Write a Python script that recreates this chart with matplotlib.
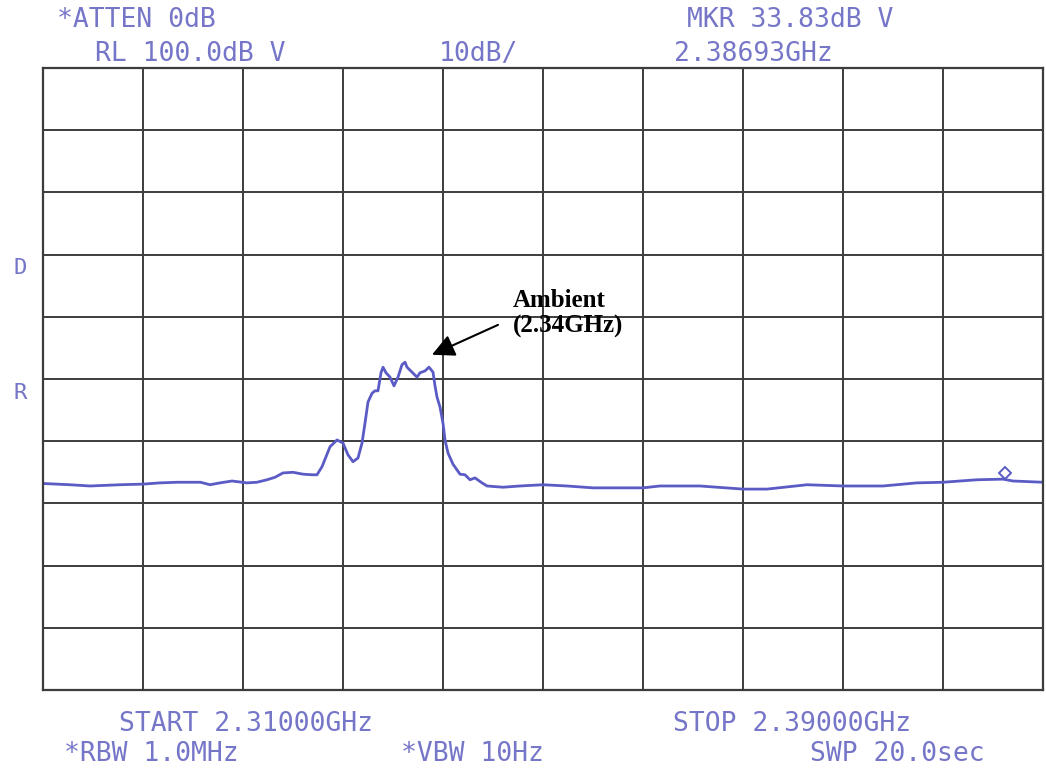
import matplotlib
matplotlib.use('Agg')
import matplotlib.pyplot as plt
from matplotlib.transforms import offset_copy

# trace: frequency (GHz) and level (dB V)
freq_ghz = [2.31000, 2.31216, 2.31376, 2.31616, 2.31800, 2.31936, 2.32072, 2.32260,
            2.32336, 2.32416, 2.32512, 2.32632, 2.32712, 2.32792, 2.32856, 2.32920,
            2.33000, 2.33080, 2.33152, 2.33192, 2.33232, 2.33296, 2.33352, 2.33400,
            2.33440, 2.33480, 2.33520, 2.33552, 2.33576, 2.33600, 2.33632, 2.33656,
            2.33680, 2.33704, 2.33720, 2.33744, 2.33776, 2.33808, 2.33840, 2.33872,
            2.33896, 2.33912, 2.33952, 2.33992, 2.34016, 2.34056, 2.34088, 2.34120,
            2.34136, 2.34152, 2.34176, 2.34200, 2.34216, 2.34240, 2.34280, 2.34336,
            2.34376, 2.34416, 2.34456, 2.34512, 2.34552, 2.34680, 2.34816, 2.35000,
            2.35192, 2.35400, 2.35800, 2.35936, 2.36256, 2.36392, 2.36600, 2.36792,
            2.37112, 2.37400, 2.37720, 2.37992, 2.38200, 2.38472, 2.38680, 2.38760,
            2.39000]
level_db = [33.2, 33.0, 32.8, 33.0, 33.1, 33.3, 33.4, 33.4,
            33.0, 33.3, 33.6, 33.3, 33.4, 33.8, 34.2, 34.9,
            35.0, 34.7, 34.6, 34.6, 35.9, 39.1, 40.2, 39.7,
            37.8, 36.7, 37.3, 39.7, 42.9, 46.3, 47.7, 48.1,
            48.1, 51.0, 51.9, 51.0, 50.3, 48.9, 50.3, 52.3,
            52.7, 51.9, 51.1, 50.3, 51.0, 51.3, 51.9, 51.1,
            48.9, 47.1, 45.5, 42.9, 40.2, 38.1, 36.3, 34.7,
            34.6, 33.8, 34.1, 33.3, 32.8, 32.6, 32.8, 33.0,
            32.8, 32.5, 32.5, 32.8, 32.8, 32.6, 32.3, 32.3,
            33.0, 32.8, 32.8, 33.3, 33.4, 33.8, 33.9, 33.6,
            33.4]

start_ghz = 2.31
stop_ghz = 2.39
ref_level = 100.0
db_per_div = 10
mkr_ghz = 2.38693
mkr_db = 33.83

trace_col = '#5b5bc6'
text_col = '#7676c9'
grid_col = '#3c3c3c'

fig = plt.figure(figsize=(10.46, 7.71), dpi=100)
W, H = 1046.0, 771.0
ax = fig.add_axes([43 / W, 1 - 690 / H, 1000 / W, 622 / H])

ax.plot(freq_ghz, level_db, color=trace_col, linewidth=2.0)
mk_tr = offset_copy(ax.transData, fig=fig, x=0, y=5, units='points')
ax.plot([mkr_ghz], [mkr_db], marker='D', markersize=6.5, markerfacecolor='none',
        markeredgecolor=trace_col, markeredgewidth=1.4, transform=mk_tr)

ax.set_xlim(start_ghz, stop_ghz)
ax.set_ylim(ref_level - 10 * db_per_div, ref_level)
ax.set_xticks([start_ghz + i * (stop_ghz - start_ghz) / 10 for i in range(11)])
ax.set_yticks([ref_level - i * db_per_div for i in range(11)])
ax.tick_params(length=0, labelbottom=False, labelleft=False)
ax.grid(True, color=grid_col, linewidth=1.4)
for s in ax.spines.values():
    s.set_color(grid_col)
    s.set_linewidth(1.6)

ax.annotate('', xy=(2.34112, 53.9), xytext=(2.3464, 58.7),
            arrowprops=dict(arrowstyle='-|>', color='black', lw=1.5,
                            mutation_scale=34, shrinkA=0, shrinkB=0))
ax.text(2.3476, 64.4, 'Ambient\n(2.34GHz)', ha='left', va='top',
        family='Liberation Serif', fontweight='bold', fontsize=18,
        linespacing=1.1)

# analyzer annotations
labels = [
    ('*ATTEN 0dB', 136, 27),
    ('MKR 33.83dB V', 790, 27),
    ('RL 100.0dB V', 190, 61),
    ('10dB/', 479, 61),
    ('2.38693GHz', 753, 61),
    ('START 2.31000GHz', 246, 731),
    ('STOP 2.39000GHz', 792, 731),
    ('*RBW 1.0MHz', 151, 761),
    ('*VBW 10Hz', 472, 761),
    ('SWP 20.0sec', 897, 761),
]
for txt, x, y in labels:
    fig.text(x / W, 1 - y / H, txt, ha='center', va='baseline',
             family='DejaVu Sans Mono', fontsize=19, color=text_col)
for txt, y in [('D', 274), ('R', 399)]:
    fig.text(20 / W, 1 - y / H, txt, ha='center', va='baseline',
             family='DejaVu Sans Mono', fontsize=16, color=text_col)

fig.savefig('out.png', dpi=100)
